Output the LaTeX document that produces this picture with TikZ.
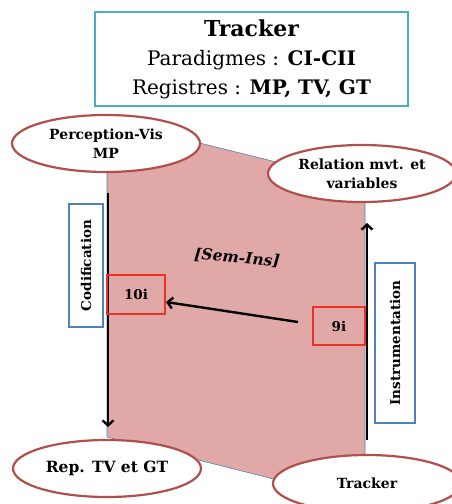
\documentclass[tikz,border=0pt]{standalone}
\usepackage{fontspec}
\setmainfont{DejaVu Serif}
\usetikzlibrary{arrows.meta,shapes.geometric,positioning}
\definecolor{titleblue}{HTML}{4BACC6}
\definecolor{boxblue}{HTML}{4F81BD}
\definecolor{ovalred}{HTML}{B0504D}
\definecolor{zonepink}{HTML}{E0A9A8}
\definecolor{tagred}{HTML}{EA3323}
\tikzset{
  oval/.style={ellipse, draw=ovalred, line width=2.2pt, fill=white, minimum width=188pt, minimum height=57pt, inner sep=0pt, align=center, font=\bfseries\fontsize{14}{19}\selectfont},
  sidebox/.style={draw=boxblue, line width=2pt, fill=white, rotate=90, inner sep=0pt, font=\bfseries\fontsize{13.5}{16}\selectfont},
  tag/.style={draw=tagred, line width=2.2pt, inner sep=0pt, font=\bfseries\fontsize{13.5}{16}\selectfont},
  flow/.style={-{Straight Barb[length=5pt,width=11pt]}, line width=2.4pt},
}

\begin{document}
\begin{tikzpicture}[x=1pt, y=-1pt]
  \useasboundingbox (0,0) rectangle (452,504);
  \clip (0,0) rectangle (452,504);

  % Zone Sem-Ins
  \draw[boxblue, line width=0.6pt, fill=zonepink] (107,120) -- (365,184) -- (365,502) -- (107,437) -- cycle;
  \node[rotate=-5, font=\bfseries\itshape\fontsize{15.5}{18}\selectfont] (sem) at (237,258) {[Sem-Ins]};

  % Genesis arrows
  \coordinate (codtop) at (108,193);
  \coordinate (codend) at (108,427);
  \coordinate (insstart) at (367,440);
  \coordinate (insend) at (367,223);
  \draw[flow] (codtop) -- (codend);
  \draw[flow] (insstart) -- (insend);

  % Steps
  \node[tag, minimum width=58pt, minimum height=39pt] (t10) at (136,294.5) {10i};
  \node[tag, minimum width=52pt, minimum height=38pt] (t9) at (339,326) {9i};
  \coordinate (semfrom) at (298,322);
  \coordinate (semto) at (166,302);
  \draw[flow] (semfrom) -- (semto);

  % Side labels
  \node[sidebox, minimum width=123pt, minimum height=34pt] (codif) at (86,265.5) {Codification};
  \node[sidebox, minimum width=160pt, minimum height=40pt] (instru) at (395,343) {Instrumentation};

  % Registers
  \node[oval] (percep) at (106,143.5) {Perception-Vis\\MP};
  \node[oval] (relation) at (362,173.5) {Relation mvt. et\\variables};
  \node[oval, font=\bfseries\fontsize{15.5}{19}\selectfont] (rep) at (107,468.5) {Rep. TV et GT};
  \node[oval] (tracker) at (367,483.5) {Tracker};

  % Title
  \node[draw=titleblue, line width=2.5pt, fill=white, minimum width=313pt, minimum height=94pt, align=center,
        font=\fontsize{20}{29}\selectfont] (title) at (251.5,59)
    {{\bfseries\fontsize{22}{29}\selectfont Tracker}\\Paradigmes : \textbf{CI-CII}\\Registres : \textbf{MP, TV, GT}};
\end{tikzpicture}
\end{document}
